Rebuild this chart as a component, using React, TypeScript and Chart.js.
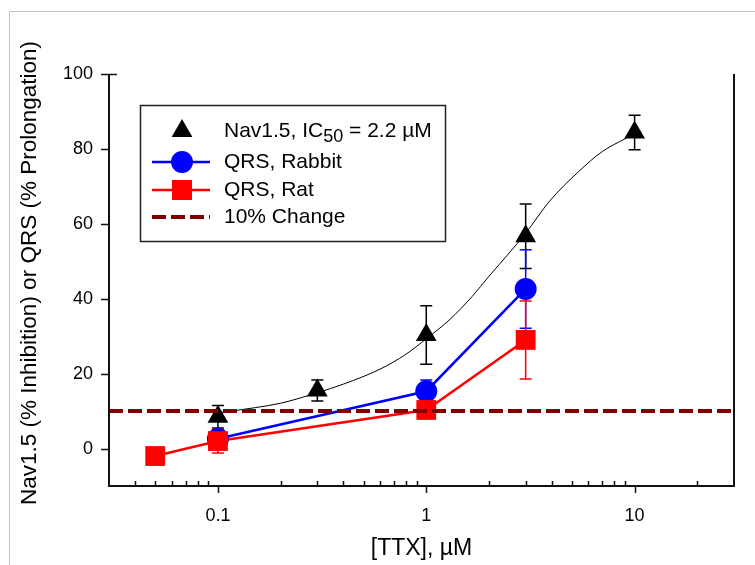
import React, { useEffect, useRef } from 'react';
import { Chart, registerables } from 'chart.js';
Chart.register(...registerables);

const FONT = "'Liberation Sans', Arial, sans-serif";

// Axis setup
const xMin = 0.03;
const xMax = 30;
const yMin = -10;
const yMax = 100;
const xTickValues = [0.1, 1, 10];
const xMinorTicks = [0.04, 0.05, 0.06, 0.07, 0.08, 0.09, 0.2, 0.3, 0.4, 0.5, 0.6, 0.7, 0.8, 0.9, 2, 3, 4, 5, 6, 7, 8, 9, 20];
const yTickValues = [0, 20, 40, 60, 80, 100];

// Nav1.5 inhibition
const navX = [0.1, 0.3, 1, 3, 10];
const navY = [8.5, 15.5, 30.3, 56.7, 84.4];
const navErr = [3, 2.8, 7.8, 8.6, 4.6];

// Fitted curve
const fitX = [0.1, 0.15, 0.2, 0.3, 0.4, 0.6, 0.8, 1.0, 1.3, 1.66, 2.0, 2.5, 3.0, 3.9, 5.4, 7.0, 9.0, 10];
const fitY = [9.5, 10.9, 12.1, 14.9, 17.2, 21.2, 25.2, 29.3, 34.5, 40.6, 46, 52.2, 57.5, 66.0, 74, 79.3, 82.7, 84];

// QRS Rabbit
const rabbitX = [0.1, 1, 3];
const rabbitY = [2.6, 15.3, 42.6];
const rabbitErr = [1, 3, 10.5];

// QRS Rat
const ratX = [0.05, 0.1, 1, 3];
const ratY = [-2, 2, 10.3, 29];
const ratErr = [0, 3.2, 0.8, 10.4];

// Threshold
const threshold = 10;

const legendLabels = ['Nav1.5, IC', 'QRS, Rabbit', 'QRS, Rat', '10% Change'];

const toPts = (xs: number[], ys: number[]) => xs.map((x, i) => ({ x, y: ys[i] }));

export default function App() {
  const ref = useRef<HTMLCanvasElement>(null);
  useEffect(() => {
    const canvas = ref.current!;
    const bars = [
      { xs: navX, ys: navY, err: navErr, color: '#000000' },
      { xs: rabbitX, ys: rabbitY, err: rabbitErr, color: '#0000ff' },
      { xs: ratX, ys: ratY, err: ratErr, color: '#ff0000' },
    ];
    const decor = {
      id: 'decor',
      beforeDatasetsDraw(chart: any) {
        const { ctx, scales } = chart;
        const xs = scales.x, ys = scales.y;
        ctx.save();
        ctx.lineWidth = 1.5;
        bars.forEach(b => {
          ctx.strokeStyle = b.color;
          b.xs.forEach((xv, i) => {
            const e = b.err[i];
            if (!e) return;
            const px = xs.getPixelForValue(xv);
            const top = ys.getPixelForValue(b.ys[i] + e);
            const bot = ys.getPixelForValue(b.ys[i] - e);
            ctx.beginPath();
            ctx.moveTo(px, top); ctx.lineTo(px, bot);
            ctx.moveTo(px - 6, top); ctx.lineTo(px + 6, top);
            ctx.moveTo(px - 6, bot); ctx.lineTo(px + 6, bot);
            ctx.stroke();
          });
        });
        ctx.restore();
      },
      afterDraw(chart: any) {
        const { ctx, scales, chartArea } = chart;
        const xs = scales.x, ys = scales.y;
        const { left, right, top, bottom } = chartArea;
        ctx.save();
        // outer gray frame
        ctx.strokeStyle = '#c4c4c4';
        ctx.lineWidth = 1;
        ctx.beginPath();
        ctx.moveTo(9.5, 565); ctx.lineTo(9.5, 11.5); ctx.lineTo(755, 11.5);
        ctx.stroke();
        // spines
        ctx.strokeStyle = '#111111';
        ctx.lineWidth = 2;
        ctx.beginPath();
        ctx.moveTo(left, top); ctx.lineTo(left, bottom); ctx.lineTo(right, bottom); ctx.lineTo(right, top);
        ctx.stroke();
        // ticks
        ctx.lineWidth = 1.5;
        ctx.beginPath();
        yTickValues.forEach(v => {
          const py = Math.round(ys.getPixelForValue(v)) + 0.5;
          ctx.moveTo(left - 8, py);
          ctx.lineTo(v === yMax ? left + 8 : left, py);
        });
        xTickValues.forEach(v => {
          const px = Math.round(xs.getPixelForValue(v)) + 0.5;
          ctx.moveTo(px, bottom); ctx.lineTo(px, bottom + 7);
        });
        xMinorTicks.forEach(v => {
          const px = Math.round(xs.getPixelForValue(v)) + 0.5;
          ctx.moveTo(px, bottom); ctx.lineTo(px, bottom - 5);
        });
        ctx.stroke();
        // axis titles
        ctx.fillStyle = '#000000';
        ctx.font = `23px ${FONT}`;
        ctx.textAlign = 'center';
        ctx.textBaseline = 'middle';
        ctx.fillText('[TTX], \u00b5M', (left + right) / 2, 549);
        ctx.save();
        ctx.font = `22.5px ${FONT}`;
        ctx.translate(30, 273);
        ctx.rotate(-Math.PI / 2);
        ctx.fillText('Nav1.5 (% Inhibition) or QRS (% Prolongation)', 0, 0);
        ctx.restore();
        // legend
        ctx.fillStyle = '#ffffff';
        ctx.fillRect(140.5, 105.5, 305, 136);
        ctx.strokeStyle = '#222222';
        ctx.lineWidth = 1.5;
        ctx.strokeRect(140.5, 105.5, 305, 136);
        const rows = [131, 162, 190, 217];
        const sx = 182, lx0 = 152, lx1 = 210, tx = 224;
        // triangle
        ctx.fillStyle = '#000000';
        const r = 12;
        ctx.beginPath();
        ctx.moveTo(sx, rows[0] - r);
        ctx.lineTo(sx + r * Math.sin(2 * Math.PI / 3), rows[0] - r * Math.cos(2 * Math.PI / 3));
        ctx.lineTo(sx + r * Math.sin(4 * Math.PI / 3), rows[0] - r * Math.cos(4 * Math.PI / 3));
        ctx.closePath();
        ctx.fill();
        // rabbit
        ctx.strokeStyle = '#0000ff';
        ctx.lineWidth = 2.5;
        ctx.beginPath(); ctx.moveTo(lx0, rows[1]); ctx.lineTo(lx1, rows[1]); ctx.stroke();
        ctx.fillStyle = '#0000ff';
        ctx.beginPath(); ctx.arc(sx, rows[1], 11, 0, Math.PI * 2); ctx.fill();
        // rat
        ctx.strokeStyle = '#ff0000';
        ctx.beginPath(); ctx.moveTo(lx0, rows[2]); ctx.lineTo(lx1, rows[2]); ctx.stroke();
        ctx.fillStyle = '#ff0000';
        ctx.fillRect(sx - 10, rows[2] - 10, 20, 20);
        // dashed
        ctx.strokeStyle = '#800000';
        ctx.lineWidth = 4;
        ctx.setLineDash([14, 5]);
        ctx.beginPath(); ctx.moveTo(lx0, rows[3]); ctx.lineTo(lx1, rows[3]); ctx.stroke();
        ctx.setLineDash([]);
        // texts
        ctx.fillStyle = '#000000';
        ctx.textAlign = 'left';
        ctx.textBaseline = 'middle';
        ctx.font = `21px ${FONT}`;
        ctx.fillText(legendLabels[0], tx, rows[0]);
        let w = ctx.measureText(legendLabels[0]).width;
        ctx.font = `18px ${FONT}`;
        ctx.fillText('50', tx + w, rows[0] + 6);
        w += ctx.measureText('50').width;
        ctx.font = `21px ${FONT}`;
        ctx.fillText(' = 2.2 \u00b5M', tx + w, rows[0]);
        for (let i = 1; i < 4; i++) ctx.fillText(legendLabels[i], tx, rows[i]);
        ctx.restore();
      },
    };
    const chart = new Chart(canvas, {
      type: 'line',
      data: {
        datasets: [
          {
            label: '10% Change',
            data: [{ x: xMin, y: threshold }, { x: xMax, y: threshold }],
            borderColor: '#800000',
            borderWidth: 4,
            borderDash: [14, 5],
            pointRadius: 0,
            order: 0,
          },
          {
            label: 'QRS, Rat',
            data: toPts(ratX, ratY),
            borderColor: '#ff0000',
            backgroundColor: '#ff0000',
            borderWidth: 2.5,
            pointStyle: 'rect',
            pointRadius: 14,
            pointBorderWidth: 0,
            order: 1,
          },
          {
            label: 'QRS, Rabbit',
            data: toPts(rabbitX, rabbitY),
            borderColor: '#0000ff',
            backgroundColor: '#0000ff',
            borderWidth: 2.5,
            pointStyle: 'circle',
            pointRadius: 11,
            pointBorderWidth: 0,
            order: 2,
          },
          {
            label: 'Nav1.5',
            data: toPts(navX, navY),
            showLine: false,
            borderColor: '#000000',
            backgroundColor: '#000000',
            pointStyle: 'triangle',
            pointRadius: 12,
            pointBorderWidth: 0,
            order: 3,
          },
          {
            label: 'Fit',
            data: toPts(fitX, fitY),
            borderColor: '#000000',
            borderWidth: 1,
            pointRadius: 0,
            cubicInterpolationMode: 'monotone',
            order: 4,
          },
        ] as any,
      },
      options: {
        responsive: false,
        animation: false,
        layout: { padding: { left: 0, right: 21, top: 74, bottom: 0 } },
        plugins: { legend: { display: false }, tooltip: { enabled: false } },
        scales: {
          x: {
            type: 'logarithmic',
            min: xMin,
            max: xMax,
            position: 'bottom',
            afterFit: (s: any) => { s.height = 79; },
            afterBuildTicks: (s: any) => { s.ticks = xTickValues.map(v => ({ value: v, major: true })); },
            ticks: {
              callback: (v: any) => String(v),
              font: { family: FONT, size: 18 },
              color: '#000000',
              padding: 19,
              autoSkip: false,
              maxRotation: 0,
            },
            grid: { display: false, drawTicks: false },
            border: { display: false },
          },
          y: {
            type: 'linear',
            min: yMin,
            max: yMax,
            afterFit: (s: any) => { s.width = 109; },
            afterBuildTicks: (s: any) => { s.ticks = yTickValues.map(v => ({ value: v })); },
            ticks: {
              font: { family: FONT, size: 18 },
              color: '#000000',
              padding: 16,
            },
            grid: { display: false, drawTicks: false },
            border: { display: false },
          },
        },
      } as any,
      plugins: [decor],
    });
    return () => chart.destroy();
  }, []);
  return (
    <div style={{ position: 'absolute', left: 0, top: 0, width: 755, height: 565, background: '#ffffff' }}>
      <canvas ref={ref} width={755} height={565} style={{ display: 'block' }} />
    </div>
  );
}
